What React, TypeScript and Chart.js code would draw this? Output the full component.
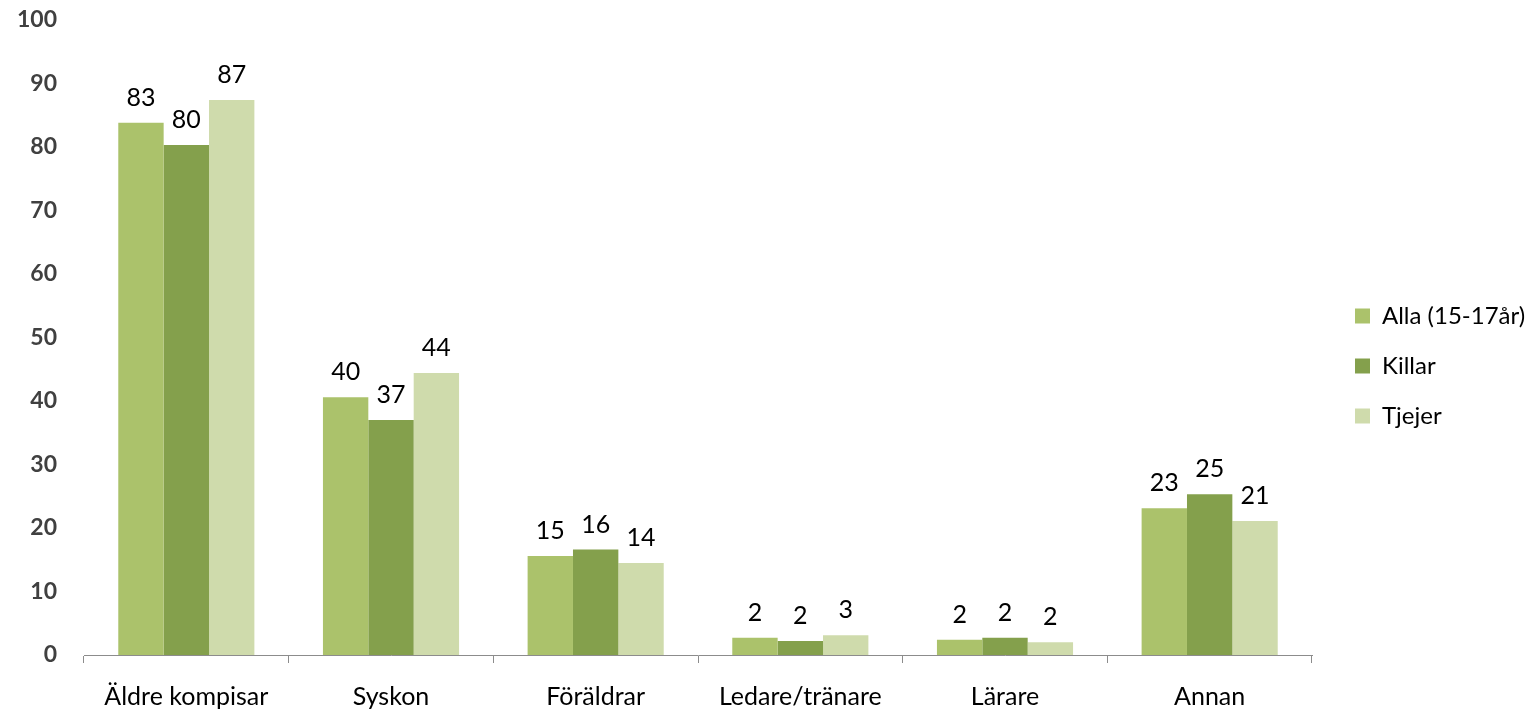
import React, { useEffect, useRef } from "react";
import { Chart, registerables } from "chart.js";

Chart.register(...registerables);

const categories = ["Äldre kompisar", "Syskon", "Föräldrar", "Ledare/tränare", "Lärare", "Annan"];
const seriesNames = ["Alla (15-17år)", "Killar", "Tjejer"];
const allaValues = [83.8, 40.6, 15.6, 2.7, 2.4, 23.1];
const killarValues = [80.3, 37.0, 16.6, 2.2, 2.7, 25.3];
const tjejerValues = [87.4, 44.4, 14.5, 3.1, 2.0, 21.1];
const allaLabels = ["83", "40", "15", "2", "2", "23"];
const killarLabels = ["80", "37", "16", "2", "2", "25"];
const tjejerLabels = ["87", "44", "14", "3", "2", "21"];
const colors = ["#abc26b", "#84a04c", "#cfdbac"];
const yTicks = [0, 10, 20, 30, 40, 50, 60, 70, 80, 90, 100];

const FONT = "Lato";
const LEGEND_WIDTH = 222;
const LEGEND_SHIFT = 17;

const dataLabelPlugin = {
  id: "dataLabels",
  afterDatasetsDraw(chart: any) {
    const ctx = chart.ctx;
    ctx.save();
    ctx.font = `25px ${FONT}`;
    ctx.fillStyle = "#000000";
    ctx.textAlign = "center";
    ctx.textBaseline = "alphabetic";
    chart.data.datasets.forEach((ds: any, di: number) => {
      const meta = chart.getDatasetMeta(di);
      meta.data.forEach((bar: any, i: number) => {
        ctx.fillText(ds.labelsText[i], bar.x, bar.y - 17);
      });
    });
    ctx.restore();
  },
};

const legendPlacePlugin = {
  id: "legendPlace",
  beforeLayout(chart: any) {
    const lg = chart.legend;
    if (lg && !lg._placePatched) {
      const orig = lg.fit;
      lg.fit = function () {
        orig.call(this);
        this.width = LEGEND_WIDTH;
      };
      lg._placePatched = true;
    }
  },
  afterLayout(chart: any) {
    const lg = chart.legend;
    if (lg) {
      lg.left += LEGEND_SHIFT;
      lg.right += LEGEND_SHIFT;
    }
  },
};

export default function App() {
  const canvasRef = useRef<HTMLCanvasElement | null>(null);

  useEffect(() => {
    if (!canvasRef.current) return;
    const valueSets = [allaValues, killarValues, tjejerValues];
    const labelSets = [allaLabels, killarLabels, tjejerLabels];
    const chart = new Chart(canvasRef.current, {
      type: "bar",
      data: {
        labels: categories,
        datasets: seriesNames.map((name, i) => ({
          label: name,
          data: valueSets[i],
          labelsText: labelSets[i],
          backgroundColor: colors[i],
          borderWidth: 0,
          categoryPercentage: 0.665,
          barPercentage: 1.0,
        })) as any,
      },
      options: {
        animation: false,
        responsive: true,
        maintainAspectRatio: false,
        layout: { padding: { left: 0, top: 20, right: 0, bottom: 0 } },
        plugins: {
          tooltip: { enabled: false },
          legend: {
            position: "right",
            labels: {
              boxWidth: 15,
              boxHeight: 15,
              padding: 26,
              color: "#000000",
              font: { family: FONT, size: 24 },
            },
          },
        },
        scales: {
          x: {
            afterFit: (axis: any) => {
              axis.height = 57;
            },
            grid: {
              display: true,
              offset: true,
              drawOnChartArea: false,
              drawTicks: true,
              tickLength: 8,
              color: "#8c8c8c",
            },
            border: { display: true, color: "#8c8c8c" },
            ticks: {
              color: "#000000",
              font: { family: FONT, size: 25 },
              padding: 19,
              maxRotation: 0,
              autoSkip: false,
            },
          },
          y: {
            min: 0,
            max: 100,
            afterBuildTicks: (axis: any) => {
              axis.ticks = yTicks.map((v) => ({ value: v }));
            },
            afterFit: (axis: any) => {
              axis.width = 84;
              axis.paddingTop = 0;
              axis.paddingBottom = 0;
            },
            grid: { display: false, drawTicks: false },
            border: { display: false },
            ticks: {
              color: "#404040",
              font: { family: FONT, size: 23, weight: "bold" },
              padding: 27,
            },
          },
        },
      },
      plugins: [dataLabelPlugin, legendPlacePlugin],
    });
    return () => chart.destroy();
  }, []);

  return (
    <div style={{ position: "fixed", left: 0, top: 0, width: 1534, height: 712 }}>
      <canvas ref={canvasRef} />
    </div>
  );
}
